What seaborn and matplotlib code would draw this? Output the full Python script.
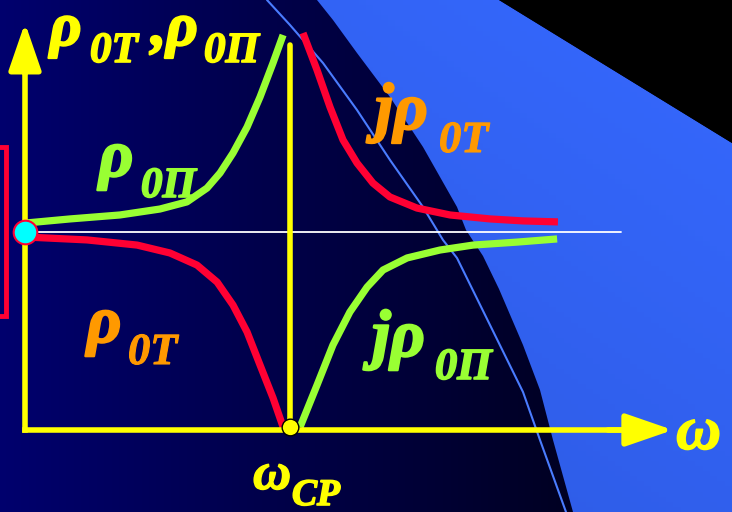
import numpy as np
import pandas as pd
import seaborn as sns
import matplotlib.pyplot as plt
import matplotlib.patheffects as pe
from matplotlib.patches import Polygon, Rectangle

# omega in units of omega_cp, rho normalised so the lower axis sits at -1
omega_rho_p = [0.0, 0.170, 0.358, 0.509, 0.611, 0.687, 0.736, 0.785, 0.838, 0.887, 0.936, 0.974]
rho_p = [0.045, 0.066, 0.086, 0.116, 0.152, 0.222, 0.298, 0.399, 0.530, 0.682, 0.854, 0.995]

omega_rho_t = [0.0, 0.234, 0.423, 0.547, 0.649, 0.725, 0.785, 0.838, 0.887, 0.936, 0.974]
rho_t = [-0.025, -0.040, -0.066, -0.106, -0.167, -0.253, -0.369, -0.505, -0.672, -0.838, -0.985]

omega_jrho_t = [1.049, 1.102, 1.151, 1.200, 1.253, 1.313, 1.377, 1.479, 1.604, 1.755, 1.879, 2.011]
jrho_t = [1.005, 0.818, 0.631, 0.465, 0.348, 0.247, 0.177, 0.121, 0.086, 0.066, 0.056, 0.051]

omega_jrho_p = [1.038, 1.102, 1.162, 1.226, 1.291, 1.351, 1.442, 1.566, 1.691, 1.857, 2.008]
jrho_p = [-0.985, -0.773, -0.571, -0.404, -0.278, -0.192, -0.131, -0.091, -0.066, -0.051, -0.035]

omega_cp = 1.0

YELLOW = '#ffff00'
GREEN = '#99ff33'
RED = '#ff0033'
ORANGE = '#ff9900'

sns.set_theme(style="white")
plt.rcParams['font.family'] = ['Liberation Serif', 'DejaVu Serif']

# pixel -> data helpers (only for decoration and text placement)
W0, KW = 25, 265
R0, KR = 232, 198


def px(x, y):
    return (np.asarray(x, float) - W0) / KW, (R0 - np.asarray(y, float)) / KR


def pts(lst):
    return np.column_stack(px([p[0] for p in lst], [p[1] for p in lst]))


fig = plt.figure(figsize=(7.32, 5.12), dpi=100)
ax = fig.add_axes([0, 0, 1, 1])
x0, y1 = px(0, 0)
x1, y0 = px(732, 512)
ax.set_xlim(x0, x1)
ax.set_ylim(y0, y1)
ax.axis('off')

# background: navy fading to black
g = np.linspace(0, 1, 300)
c_left = np.array([0.0, 0.0, 0.43])
c_right = np.array([0.0, 0.0, 0.05])
bg = (c_left[None, :] * (1 - g[:, None]) + c_right[None, :] * g[:, None])[None, :, :]
ax.imshow(bg, extent=[x0, x1, y0, y1], aspect='auto', zorder=0)

# blue sweep on the right
blue_pts = pts([(317, 0), (333, 20), (357, 53), (390, 97), (423, 147), (457, 207), (466, 230),
                (483, 256), (499, 289), (523, 345), (540, 390), (553, 440), (573, 512),
                (732, 512), (732, 143), (499, 0)])
blue_patch = Polygon(blue_pts, closed=True, facecolor='none', edgecolor='none', zorder=1)
ax.add_patch(blue_patch)
gx, gy = np.meshgrid(np.linspace(0, 1, 100), np.linspace(0, 1, 100))
t = (gx + (1 - gy)) / 2
ca = np.array([0.17, 0.34, 0.86])
cb = np.array([0.21, 0.41, 1.0])
bimg = ca[None, None, :] * (1 - t[..., None]) + cb[None, None, :] * t[..., None]
im = ax.imshow(bimg, extent=[x0, x1, y0, y1], aspect='auto', zorder=1)
im.set_clip_path(blue_patch)

ax.add_patch(Polygon(pts([(499, 0), (732, 0), (732, 143)]), closed=True,
                     facecolor='black', edgecolor='none', zorder=1))

thin = pts([(267, 0), (290, 25), (323, 63), (357, 110), (390, 160), (423, 207), (443, 240),
            (457, 258), (490, 325), (523, 392), (540, 440), (566, 512)])
ax.plot(thin[:, 0], thin[:, 1], color='#4a7cff', lw=1.5, zorder=2)

# red bracket at the left edge
rb = pts([(-30, 316), (6, 147)])
ax.add_patch(Rectangle((rb[0, 0], rb[0, 1]), rb[1, 0] - rb[0, 0], rb[1, 1] - rb[0, 1],
                       fill=False, edgecolor=RED, lw=3.5, zorder=3))

# zero line
ax.plot([0, 2.249], [0, 0], color='white', lw=1.3, zorder=3)

# curves
branches = [
    (omega_rho_p, rho_p, GREEN),
    (omega_rho_t, rho_t, RED),
    (omega_jrho_t, jrho_t, RED),
    (omega_jrho_p, jrho_p, GREEN),
]
for om, rh, col in branches:
    df = pd.DataFrame({'omega': om, 'rho': rh})
    sns.lineplot(data=df, x='omega', y='rho', ax=ax, sort=False, estimator=None,
                 color=col, lw=5.2, solid_capstyle='butt', solid_joinstyle='round', zorder=4)

# axes with arrows
ax.plot([0, 0], [-1, 0.9], color=YELLOW, lw=4, solid_capstyle='projecting', zorder=5)
ax.plot([0, 2.3], [-1, -1], color=YELLOW, lw=4, solid_capstyle='projecting', zorder=5)
ax.annotate('', xy=(0, 1.056), xytext=(0, 0.8),
            arrowprops=dict(arrowstyle='-|>,head_length=1.45,head_width=0.5', mutation_scale=20,
                            color=YELLOW, lw=4, shrinkA=0, shrinkB=0), zorder=5)
ax.annotate('', xy=(2.445, -1), xytext=(2.2, -1),
            arrowprops=dict(arrowstyle='-|>,head_length=1.45,head_width=0.5', mutation_scale=20,
                            color=YELLOW, lw=4, shrinkA=0, shrinkB=0), zorder=5)
ax.plot([omega_cp, omega_cp], [-1, 0.944], color=YELLOW, lw=4, zorder=5)

ax.plot([0], [0], 'o', ms=17, mfc='#00ffff', mec=RED, mew=1.5, zorder=6)
ax.plot([omega_cp], [-0.985], 'o', ms=12, mfc=YELLOW, mec='black', mew=1, zorder=6)

# labels
tk = dict(fontweight='bold', fontstyle='italic', ha='left', va='baseline', zorder=7)


def label(x, y, s, size, color, stroke=1.2):
    xd, yd = px(x, y)
    ax.text(float(xd), float(yd), s, fontsize=size, color=color,
            path_effects=[pe.withStroke(linewidth=stroke, foreground=color)], **tk)


label(50, 45, 'ρ', 44, YELLOW, 1.6)
label(90, 62, '0T', 31, YELLOW)
label(151, 45, ',ρ', 44, YELLOW, 1.6)
label(204, 62, '0П', 31, YELLOW)

label(99, 176, 'ρ', 48, GREEN, 1.6)
label(141, 197, '0П', 31, GREEN)

label(375, 129, 'jρ', 48, ORANGE, 1.4)
label(439, 152, '0T', 32, ORANGE, 0.8)

label(87, 342, 'ρ', 48, ORANGE, 1.6)
label(128, 364, '0T', 32, ORANGE, 0.8)

label(372, 356, 'jρ', 48, GREEN, 1.6)
label(435, 379, '0П', 32, GREEN)

label(676, 449, 'ω', 45, YELLOW, 1.0)
label(253, 489, 'ω', 38, YELLOW, 1.0)
label(292, 505, 'CP', 27, YELLOW)

fig.savefig('out.png', dpi=100)
